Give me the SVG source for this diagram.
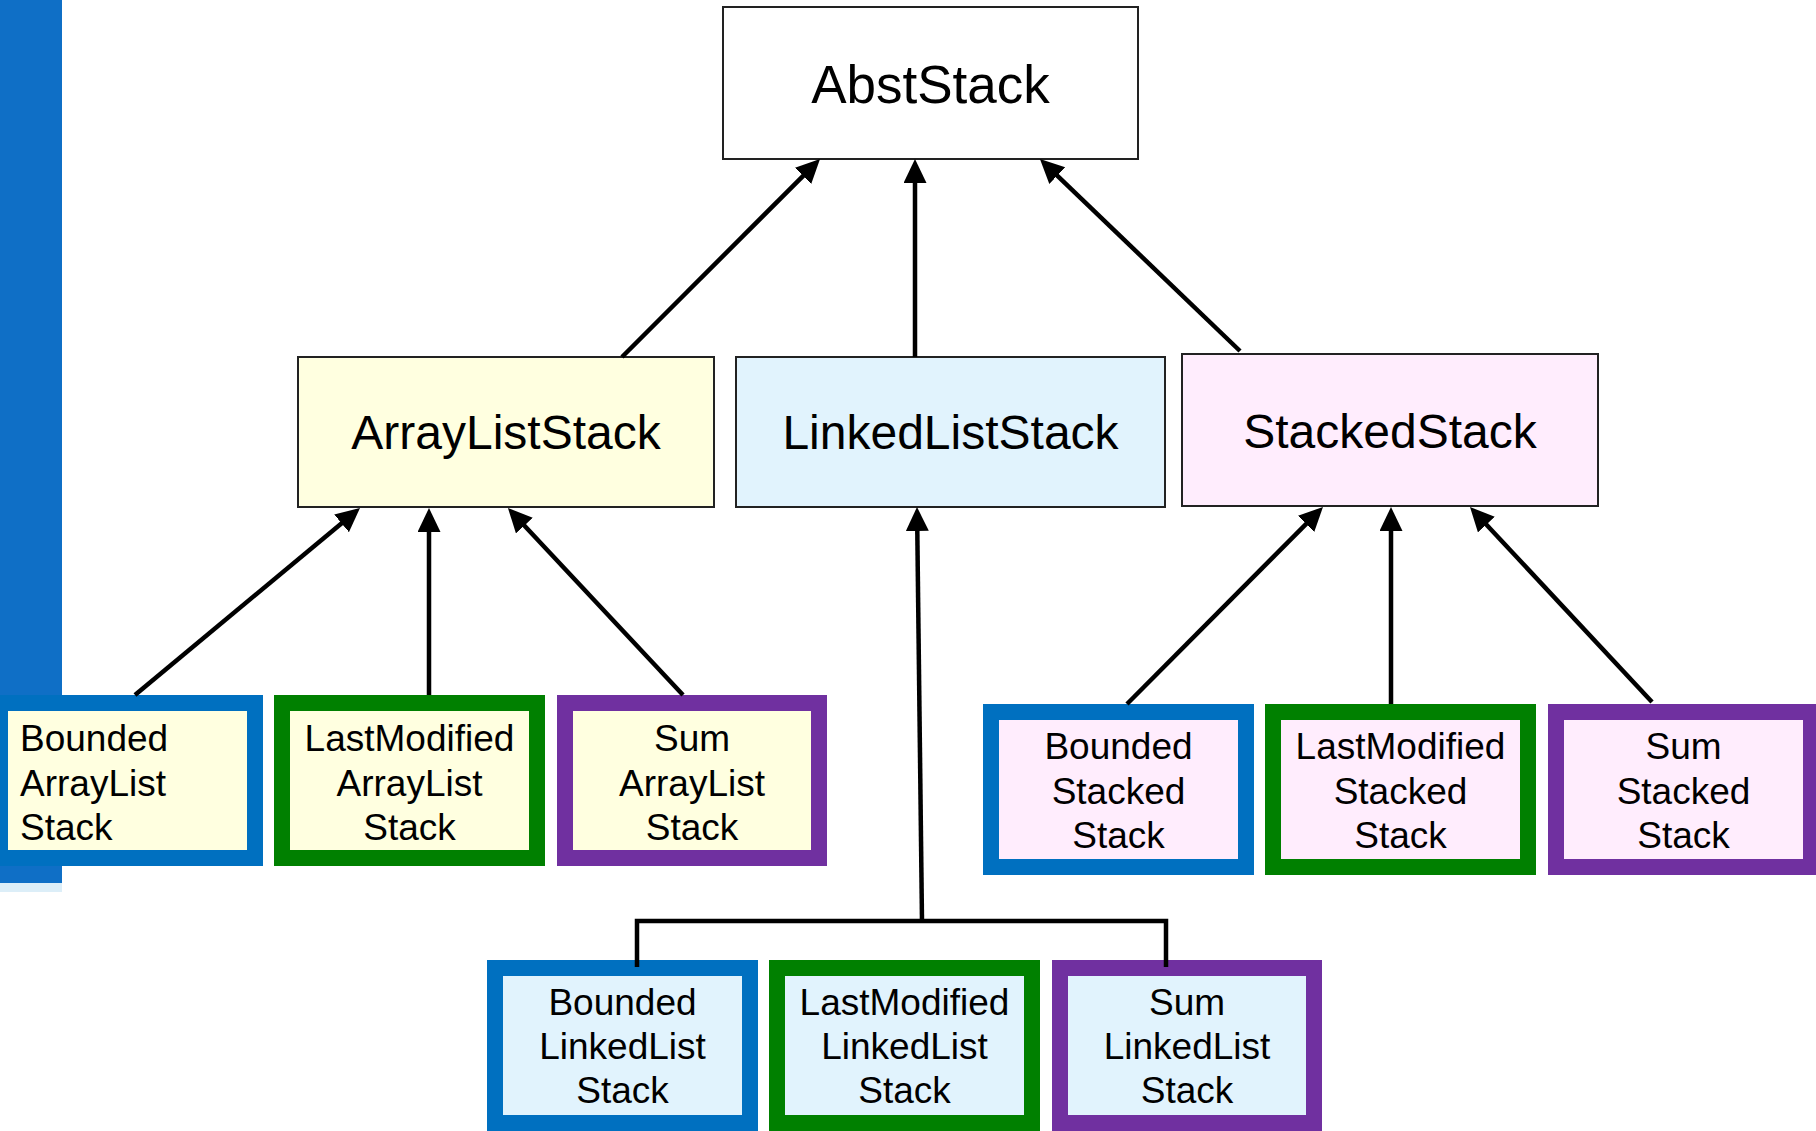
<svg xmlns="http://www.w3.org/2000/svg" width="1816" height="1131" viewBox="0 0 1816 1131">
  <style>
    text { font-family: "Liberation Sans", Arial, sans-serif; fill: #000; }
    .big { font-size: 48px; text-anchor: middle; }
    .small { font-size: 37px; text-anchor: middle; }
    .left { text-anchor: start; }
    .base { stroke: #222; stroke-width: 2; }
    .leaf { stroke-width: 16; }
    .blue { stroke: #0070C0; }
    .green { stroke: #008000; }
    .purple { stroke: #7030A0; }
    .fy { fill: #FFFFE0; }
    .fb { fill: #E1F3FD; }
    .fp { fill: #FFEDFD; }
    .conn { stroke: #000; stroke-width: 4.5; fill: none; }
  </style>
  <defs>
    <marker id="arrow" markerUnits="userSpaceOnUse" markerWidth="26" markerHeight="24" refX="8" refY="11.5" orient="auto">
      <path d="M0,0 L24,11.5 L0,23 z" fill="#000"/>
    </marker>
  </defs>

  <rect width="1816" height="1131" fill="#fff"/>

  <!-- side band -->
  <rect x="0" y="0" width="62" height="883" fill="#0F6FC6"/>
  <rect x="0" y="883" width="62" height="9" fill="#DCEEF8"/>

  <!-- root -->
  <g id="abst-stack">
    <rect x="723" y="7" width="415" height="152" fill="#fff" class="base"/>
    <text x="930.5" y="103" style="font-size:53px;text-anchor:middle">AbstStack</text>
  </g>

  <!-- second level -->
  <g id="array-list-stack">
    <rect x="298" y="357" width="416" height="150" class="base fy"/>
    <text class="big" x="506" y="449">ArrayListStack</text>
  </g>
  <g id="linked-list-stack">
    <rect x="736" y="357" width="429" height="150" class="base fb"/>
    <text class="big" x="950.5" y="449">LinkedListStack</text>
  </g>
  <g id="stacked-stack">
    <rect x="1182" y="354" width="416" height="152" class="base fp"/>
    <text class="big" x="1390" y="448">StackedStack</text>
  </g>

  <!-- ArrayList leaves -->
  <g id="bounded-arraylist-stack">
    <rect x="0" y="703" width="255" height="155" class="leaf blue fy"/>
    <text class="small left" x="20" y="751">Bounded</text>
    <text class="small left" x="20" y="796">ArrayList</text>
    <text class="small left" x="20" y="840">Stack</text>
  </g>
  <g id="lastmodified-arraylist-stack">
    <rect x="282" y="703" width="255" height="155" class="leaf green fy"/>
    <text class="small" x="409.5" y="751">LastModified</text>
    <text class="small" x="409.5" y="796">ArrayList</text>
    <text class="small" x="409.5" y="840">Stack</text>
  </g>
  <g id="sum-arraylist-stack">
    <rect x="565" y="703" width="254" height="155" class="leaf purple fy"/>
    <text class="small" x="692" y="751">Sum</text>
    <text class="small" x="692" y="796">ArrayList</text>
    <text class="small" x="692" y="840">Stack</text>
  </g>

  <!-- Stacked leaves -->
  <g id="bounded-stacked-stack">
    <rect x="991" y="712" width="255" height="155" class="leaf blue fp"/>
    <text class="small" x="1118.5" y="759">Bounded</text>
    <text class="small" x="1118.5" y="804">Stacked</text>
    <text class="small" x="1118.5" y="848">Stack</text>
  </g>
  <g id="lastmodified-stacked-stack">
    <rect x="1273" y="712" width="255" height="155" class="leaf green fp"/>
    <text class="small" x="1400.5" y="759">LastModified</text>
    <text class="small" x="1400.5" y="804">Stacked</text>
    <text class="small" x="1400.5" y="848">Stack</text>
  </g>
  <g id="sum-stacked-stack">
    <rect x="1556" y="712" width="255" height="155" class="leaf purple fp"/>
    <text class="small" x="1683.5" y="759">Sum</text>
    <text class="small" x="1683.5" y="804">Stacked</text>
    <text class="small" x="1683.5" y="848">Stack</text>
  </g>

  <!-- LinkedList leaves -->
  <g id="bounded-linkedlist-stack">
    <rect x="495" y="968" width="255" height="155" class="leaf blue fb"/>
    <text class="small" x="622.5" y="1015">Bounded</text>
    <text class="small" x="622.5" y="1059">LinkedList</text>
    <text class="small" x="622.5" y="1103">Stack</text>
  </g>
  <g id="lastmodified-linkedlist-stack">
    <rect x="777" y="968" width="255" height="155" class="leaf green fb"/>
    <text class="small" x="904.5" y="1015">LastModified</text>
    <text class="small" x="904.5" y="1059">LinkedList</text>
    <text class="small" x="904.5" y="1103">Stack</text>
  </g>
  <g id="sum-linkedlist-stack">
    <rect x="1060" y="968" width="254" height="155" class="leaf purple fb"/>
    <text class="small" x="1187" y="1015">Sum</text>
    <text class="small" x="1187" y="1059">LinkedList</text>
    <text class="small" x="1187" y="1103">Stack</text>
  </g>

  <!-- inheritance arrows -->
  <g id="connectors" class="conn">
    <line x1="622" y1="357" x2="808.7" y2="170.3" marker-end="url(#arrow)"/>
    <line x1="915" y1="357" x2="915" y2="175" marker-end="url(#arrow)"/>
    <line x1="1240" y1="351" x2="1051.5" y2="170.1" marker-end="url(#arrow)"/>

    <line x1="135" y1="695" x2="347.7" y2="518.2" marker-end="url(#arrow)"/>
    <line x1="429" y1="695" x2="429" y2="524" marker-end="url(#arrow)"/>
    <line x1="683" y1="695" x2="518.9" y2="519.7" marker-end="url(#arrow)"/>

    <line x1="1127" y1="704" x2="1311.7" y2="518.3" marker-end="url(#arrow)"/>
    <line x1="1391" y1="704" x2="1391" y2="523" marker-end="url(#arrow)"/>
    <line x1="1652" y1="702" x2="1480.9" y2="518.7" marker-end="url(#arrow)"/>

    <path d="M637,967 V921 H1166 V967"/>
    <line x1="922" y1="921" x2="917.2" y2="523" marker-end="url(#arrow)"/>
  </g>
</svg>
